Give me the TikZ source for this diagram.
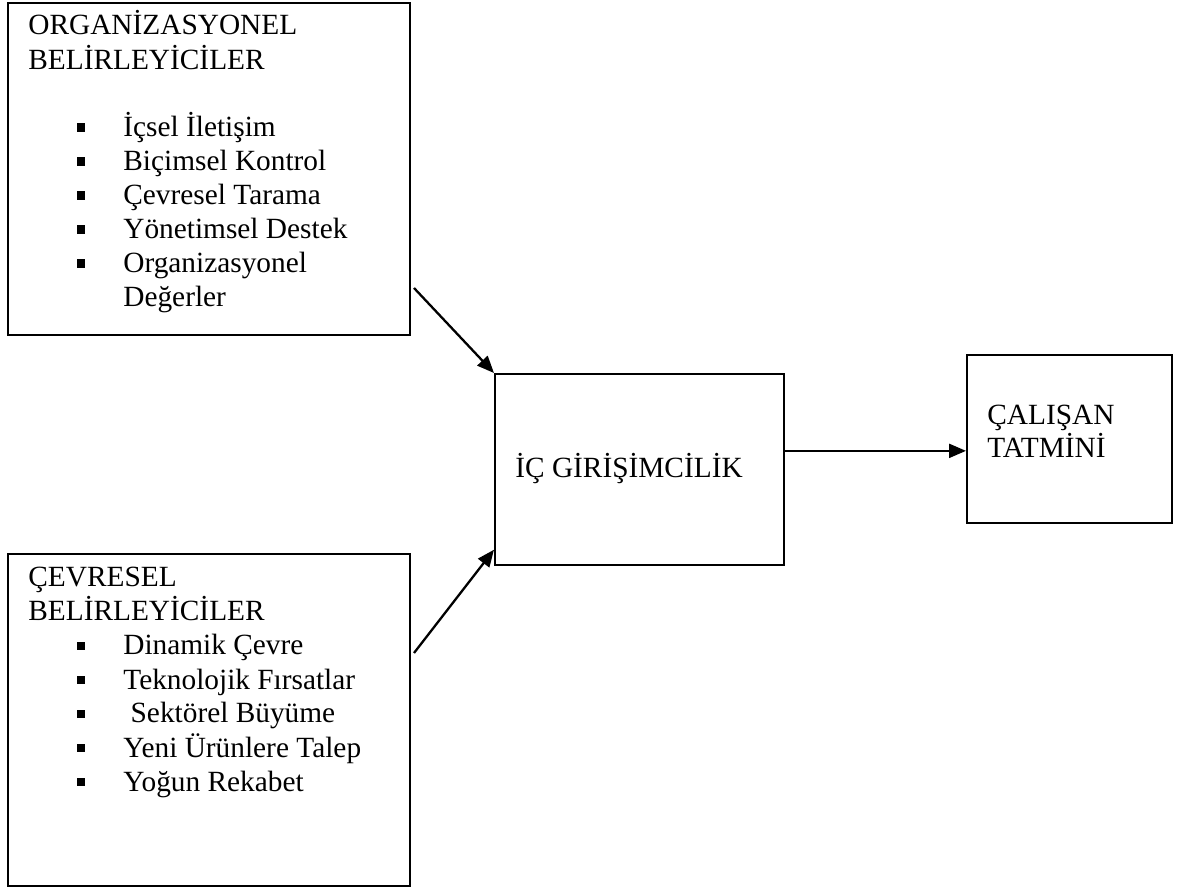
\documentclass[tikz,border=0pt]{standalone}
\usepackage{fontspec}
\setmainfont{Liberation Serif}
\usetikzlibrary{arrows.meta,positioning}

\tikzset{
  kutu/.style={draw, line width=1.3pt, inner sep=0pt, anchor=north west},
  yazi/.style={anchor=base west, inner sep=0pt, font=\fontsize{16.7}{19.4}\selectfont},
  madde/.style={fill, inner sep=0pt, minimum size=0.18cm},
  ok/.style={line width=1.3pt, -{Triangle[length=0.34cm,width=0.28cm]}}
}

\begin{document}
\begin{tikzpicture}[x=0.02cm, y=-0.02cm]

  \useasboundingbox (0,0) rectangle (1181,888);

  % kutular
  \node[kutu, minimum width=8.04cm, minimum height=6.64cm] (org) at (7,2) {};
  \node[kutu, minimum width=8.04cm, minimum height=6.64cm] (cev) at (7,553) {};
  \node[kutu, line width=1pt, minimum width=5.78cm, minimum height=3.82cm] (ic) at (494,373) {};
  \node[kutu, minimum width=4.10cm, minimum height=3.36cm] (sat) at (966,354) {};

  % organizasyonel
  \node[yazi] (orgb1) at (28,35) {ORGANİZASYONEL};
  \node[yazi] (orgb2) at (28,70) {BELİRLEYİCİLER};
  \foreach \t [count=\i from 0] in {İçsel İletişim, Biçimsel Kontrol, Çevresel Tarama,
      Yönetimsel Destek, Organizasyonel} {
    \node[madde] (om\i) at (81,{128+34*\i}) {};
    \node[yazi] (ot\i) at (123,{137+34*\i}) {\t};
  }
  \node[yazi] (od) at (123,307) {Değerler};

  % cevresel
  \node[yazi] (cevb1) at (28,587) {ÇEVRESEL};
  \node[yazi] (cevb2) at (28,621) {BELİRLEYİCİLER};
  \foreach \t [count=\i from 0] in {Dinamik Çevre, Teknolojik Fırsatlar, {\ Sektörel Büyüme},
      Yeni Ürünlere Talep, Yoğun Rekabet} {
    \node[madde] (cm\i) at (81,{646+34*\i}) {};
    \node[yazi] (ct\i) at (123,{655+34*\i}) {\t};
  }

  % orta ve sag
  \node[yazi] (icyazi) at (515,478) {İÇ GİRİŞİMCİLİK};
  \node[yazi] (saty1) at (987,425) {ÇALIŞAN};
  \node[yazi] (saty2) at (987,458) {TATMİNİ};

  % oklar
  \coordinate (orgucu) at (414,288);
  \coordinate (cevucu) at (414,653);
  \coordinate (icsag) at ([yshift=0.37cm]ic.east);
  \draw[ok] (orgucu) -- (ic.north west);
  \draw[ok] (cevucu) -- ([yshift=0.32cm]ic.south west);
  \draw[ok] (icsag) -- (icsag -| sat.west);

\end{tikzpicture}
\end{document}
